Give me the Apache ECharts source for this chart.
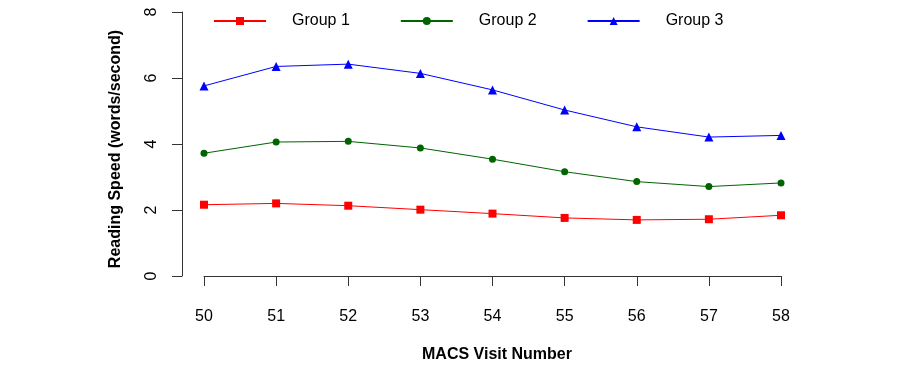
<!DOCTYPE html>
<html>
<head>
<meta charset="utf-8">
<script src="https://cdn.jsdelivr.net/npm/echarts@6/dist/echarts.min.js"></script>
<style>html,body{margin:0;padding:0;background:#fff;}#c{width:900px;height:368px;}</style>
</head>
<body>
<div id="c"></div>
<script>
const visits = ['50','51','52','53','54','55','56','57','58'];
const group1 = [2.16, 2.20, 2.13, 2.01, 1.89, 1.76, 1.70, 1.72, 1.84];
const group2 = [3.72, 4.06, 4.08, 3.88, 3.54, 3.16, 2.86, 2.71, 2.82];
const group3 = [5.76, 6.35, 6.42, 6.14, 5.64, 5.03, 4.52, 4.21, 4.26];
const yTicks = [0, 2, 4, 6, 8];

const FONT = '"Liberation Sans", Arial, Helvetica, sans-serif';
const chart = echarts.init(document.getElementById('c'), null, {renderer: 'canvas'});
const axisLine = {show: true, lineStyle: {color: '#333', width: 1}};
chart.setOption({
  animation: false,
  backgroundColor: '#fff',
  textStyle: {fontFamily: FONT},
  legend: {
    left: 208, top: 8, padding: 5,
    itemWidth: 52, itemHeight: 10, itemGap: 50,
    textStyle: {fontFamily: FONT, fontSize: 16, color: '#000', padding: [0, 0, 0, 21]},
    data: ['Group 1', 'Group 2', 'Group 3']
  },
  grid: {left: 204, right: 119, top: 12, bottom: 92, containLabel: false},
  xAxis: {
    type: 'category', data: visits, boundaryGap: false, offset: 10,
    axisLine: axisLine,
    axisTick: {show: true, length: 10, alignWithLabel: true, lineStyle: {color: '#333'}},
    axisLabel: {margin: 23, fontSize: 16, color: '#000', fontFamily: FONT},
    splitLine: {show: false},
    name: 'MACS Visit Number', nameLocation: 'middle', nameGap: 61,
    nameTextStyle: {fontSize: 16, fontWeight: 'bold', color: '#000', fontFamily: FONT, padding: [0, 0, 0, 9]}
  },
  yAxis: {
    type: 'value', min: yTicks[0], max: yTicks[yTicks.length - 1], interval: 2, offset: 22,
    axisLine: axisLine,
    axisTick: {show: true, length: 10, lineStyle: {color: '#333'}},
    axisLabel: {margin: 22, fontSize: 16, color: '#000', rotate: 90, fontFamily: FONT},
    splitLine: {show: false},
    name: 'Reading Speed (words/second)', nameLocation: 'middle', nameGap: 58,
    nameTextStyle: {fontSize: 16, fontWeight: 'bold', color: '#000', fontFamily: FONT, padding: [0, 10, 0, 0]}
  },
  series: [
    {name: 'Group 1', type: 'line', data: group1, symbol: 'rect', symbolSize: 8,
     itemStyle: {color: '#ff0000'}, lineStyle: {color: '#ff0000', width: 1}},
    {name: 'Group 2', type: 'line', data: group2, symbol: 'circle', symbolSize: 7,
     itemStyle: {color: '#006400'}, lineStyle: {color: '#006400', width: 1}},
    {name: 'Group 3', type: 'line', data: group3, symbol: 'triangle', symbolSize: 9,
     itemStyle: {color: '#0000ff'}, lineStyle: {color: '#0000ff', width: 1}}
  ]
});
</script>
</body>
</html>
